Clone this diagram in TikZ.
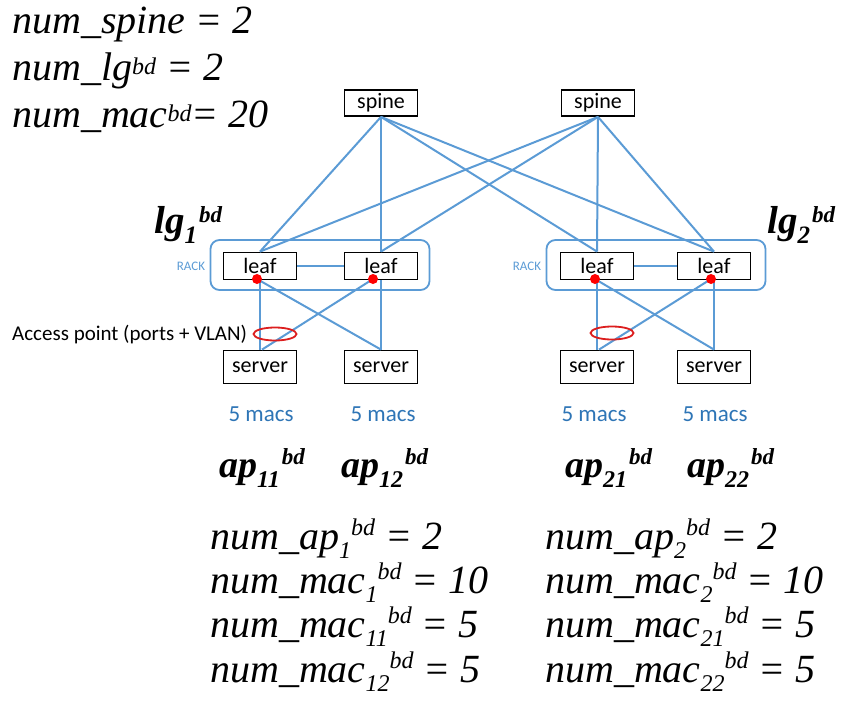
\documentclass[tikz,border=0pt]{standalone}
\usepackage{fontspec}
\setmainfont{Liberation Serif}
\newfontfamily\calib{Carlito}
\usetikzlibrary{shapes.geometric,calc}

\definecolor{linkblue}{RGB}{91,155,213}
\definecolor{macblue}{RGB}{46,117,182}
\definecolor{apred}{RGB}{220,30,30}

% raised / lowered small text: shift (pt), size (pt), text
\newcommand{\lowtxt}[3]{\raisebox{-#1pt}{\fontsize{#2}{#2}\selectfont #3}}
\newcommand{\hightxt}[3]{\raisebox{#1pt}{\fontsize{#2}{#2}\selectfont #3}}

\tikzset{
  devbox/.style={draw=black, line width=1.8pt, fill=white, inner sep=0pt,
    minimum width=73pt, font=\calib\fontsize{22}{22}\selectfont},
  spinebox/.style={devbox, minimum height=26pt},
  leafbox/.style={devbox, minimum height=27pt},
  serverbox/.style={devbox, minimum height=33pt},
  link/.style={draw=linkblue, line width=2pt},
  rackbox/.style={draw=linkblue, line width=1.8pt, rounded corners=9pt,
    minimum width=219pt, minimum height=50pt, inner sep=0pt},
  racklabel/.style={text=linkblue, font=\calib\fontsize{13}{13}\selectfont, inner sep=0pt},
  portdot/.style={circle, fill=red, inner sep=0pt, minimum size=10pt},
  apring/.style={ellipse, draw=apred, line width=1.8pt, inner sep=0pt,
    minimum width=43pt, minimum height=13pt},
  maclabel/.style={text=macblue, font=\calib\fontsize{23}{23}\selectfont, inner sep=0pt},
  eqn/.style={anchor=base west, inner sep=0pt, font=\itshape\fontsize{40}{40}\selectfont},
  grp/.style={anchor=base west, inner sep=0pt, font=\bfseries\itshape\fontsize{39}{39}\selectfont},
  apname/.style={grp, font=\bfseries\itshape\fontsize{38}{38}\selectfont},
}

\begin{document}
\begin{tikzpicture}[x=1pt, y=-1pt]
\useasboundingbox (0,0) rectangle (850,704);

% racks
\node[rackbox] (rackL) at (320,265) {};
\node[rackbox] (rackR) at (656,265) {};
\node[racklabel] (rlabL) at (191,266) {RACK};
\node[racklabel] (rlabR) at (527,266) {RACK};

% spines
\node[spinebox] (sp1) at (381,103) {spine};
\node[spinebox] (sp2) at (598,103) {spine};

% leaves
\node[leafbox] (l11) at (260,266) {leaf};
\node[leafbox] (l12) at (381,266) {leaf};
\node[leafbox] (l21) at (597,266) {leaf};
\node[leafbox] (l22) at (714,266) {leaf};

% servers
\node[serverbox] (s11) at (260,367) {server};
\node[serverbox] (s12) at (381,367) {server};
\node[serverbox] (s21) at (597,367) {server};
\node[serverbox] (s22) at (714,367) {server};

% spine-leaf mesh
\foreach \s in {sp1,sp2}
  \foreach \l in {l11,l12,l21,l22}
    \draw[link] (\s.south) -- (\l.north);

% leaf-leaf links inside each rack
\draw[link] (l11.east) -- (l12.west);
\draw[link] (l21.east) -- (l22.west);

% port positions on the leaves
\coordinate (p11) at (257,279);
\coordinate (p12) at (373,279);
\coordinate (p21) at (595,279);
\coordinate (p22) at (711,279);

% leaf-server links
\draw[link] (l11.south) -- (s11.north);
\draw[link] (l12.south) -- (s12.north);
\draw[link] (p11) -- (s12.north);
\draw[link] (p12) -- ($(s11.north)+(2,0)$);
\draw[link] (l21.south) -- (s21.north);
\draw[link] (l22.south) -- (s22.north);
\draw[link] (p21) -- (s22.north);
\draw[link] (p22) -- ($(s21.north)+(2,0)$);

% port dots
\node[portdot] (d11) at (p11) {};
\node[portdot] (d12) at (p12) {};
\node[portdot] (d21) at (p21) {};
\node[portdot] (d22) at (p22) {};

% access point rings
\node[apring] (ring1) at (275,334) {};
\node[apring] (ring2) at (612,333) {};
\node[anchor=base west, inner sep=0pt, font=\calib\fontsize{21}{21}\selectfont]
  (aplabel) at (12,340) {Access point (ports + VLAN)};

% mac counts
\node[maclabel] (m11) at (261,414) {5 macs};
\node[maclabel] (m12) at (383,414) {5 macs};
\node[maclabel] (m21) at (594,414) {5 macs};
\node[maclabel] (m22) at (715,414) {5 macs};

% access point names
\node[apname] (ap11) at (219,477) {ap\lowtxt{10}{24}{11}\kern2pt\hightxt{13}{23}{bd}};
\node[apname] (ap12) at (341,477) {ap\lowtxt{10}{24}{12}\kern2pt\hightxt{13}{23}{bd}};
\node[apname] (ap21) at (565,477) {ap\lowtxt{10}{24}{21}\kern2pt\hightxt{13}{23}{bd}};
\node[apname] (ap22) at (687,477) {ap\lowtxt{10}{24}{22}\kern2pt\hightxt{13}{23}{bd}};

% leaf group names
\node[grp] (lg1) at (154,233) {lg\lowtxt{10}{25}{1}\kern2pt\hightxt{11}{23}{bd}};
\node[grp] (lg2) at (767,233) {lg\lowtxt{10}{25}{2}\kern2pt\hightxt{11}{23}{bd}};

% global counts
\node[eqn] (e1) at (12,33) {num\_spine = 2};
\node[eqn] (e2) at (12,80) {num\_lg\hightxt{6}{24}{bd} = 2};
\node[eqn] (e3) at (12,127) {num\_mac\hightxt{6}{24}{bd}= 20};

% per-group counts
\node[eqn] (a1) at (210,549) {num\_ap\lowtxt{9}{24}{1}\hightxt{14}{24}{bd} = 2};
\node[eqn] (a2) at (210,593) {num\_mac\lowtxt{9}{24}{1}\hightxt{14}{24}{bd} = 10};
\node[eqn] (a3) at (210,637) {num\_mac\lowtxt{9}{24}{11}\hightxt{14}{24}{bd} = 5};
\node[eqn] (a4) at (210,682) {num\_mac\lowtxt{9}{24}{12}\hightxt{14}{24}{bd} = 5};
\node[eqn] (b1) at (545,549) {num\_ap\lowtxt{9}{24}{2}\hightxt{14}{24}{bd} = 2};
\node[eqn] (b2) at (545,593) {num\_mac\lowtxt{9}{24}{2}\hightxt{14}{24}{bd} = 10};
\node[eqn] (b3) at (545,637) {num\_mac\lowtxt{9}{24}{21}\hightxt{14}{24}{bd} = 5};
\node[eqn] (b4) at (545,682) {num\_mac\lowtxt{9}{24}{22}\hightxt{14}{24}{bd} = 5};
\end{tikzpicture}
\end{document}
